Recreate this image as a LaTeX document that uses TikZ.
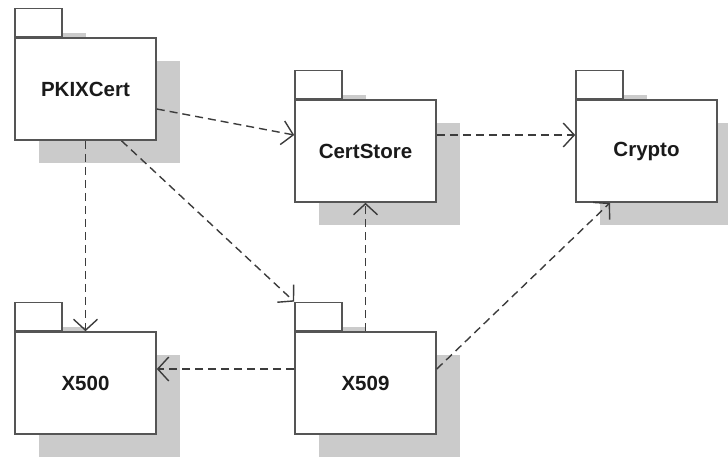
\documentclass[tikz,border=0pt]{standalone}
\usepackage{fontspec}
\setmainfont{Liberation Sans}
\usetikzlibrary{arrows.meta,calc}
\definecolor{pkgline}{HTML}{555555}
\definecolor{pkgshadow}{HTML}{CBCBCB}
\definecolor{deplinecol}{HTML}{3C3C3C}
\definecolor{pkgtext}{HTML}{1A1A1A}
\tikzset{
  pkgbody/.style={draw=pkgline, line width=1.6pt, fill=white, rectangle,
    minimum width=141pt, minimum height=102pt, inner sep=0pt,
    font=\fontsize{20.5}{24}\selectfont\bfseries, text=pkgtext},
  pkgtab/.style={draw=pkgline, line width=1.6pt, fill=white, rectangle,
    minimum width=47pt, minimum height=28pt, inner sep=0pt, anchor=south west},
  pkgshade/.style={fill=pkgshadow, draw=none},
  dep/.style={draw=deplinecol, line width=1.4pt, dash pattern=on 8pt off 5pt,
    -{Straight Barb[length=11pt, width=24pt, line width=1.4pt]}},
}
% package with folder tab and drop shadow: name, x, y (centre of body), label
\newcommand{\umlpackage}[4]{%
  \fill[pkgshade] (#2-70.5+24, #3-51-28+23) rectangle ++(47, 28);
  \fill[pkgshade] (#2-70.5+24, #3-51+23) rectangle ++(141, 102);
  \node[pkgbody] (#1) at (#2, #3) {#4};
  \node[pkgtab] (#1tab) at (#1.north west) {};
}
\begin{document}
\begin{tikzpicture}[x=1pt, y=-1pt]
  \useasboundingbox (0,0) rectangle (728,460);
  \umlpackage{pk}{85.5}{89}{PKIXCert}
  \umlpackage{cs}{365.5}{151}{CertStore}
  \umlpackage{cr}{646.5}{151}{Crypto}
  \umlpackage{xa}{85.5}{383}{X500}
  \umlpackage{xb}{365.5}{383}{X509}
  % dependencies
  \draw[dep] ($(pk.east)+(0,20)$) -- ($(cs.west)+(0,-16)$);
  \draw[dep] (pk.south) -- (xa.north);
  \draw[dep] ($(pk.south)+(36,0)$) -- (xbtab.north west);
  \draw[dep] ($(cs.east)+(0,-16)$) -- ($(cr.west)+(0,-16)$);
  \draw[dep] (xb.north) -- (cs.south);
  \draw[dep] ($(xb.west)+(0,-14)$) -- ($(xa.east)+(0,-14)$);
  \draw[dep] ($(xb.east)+(0,-14)$) -- ($(cr.south)+(-36.5,0)$);
\end{tikzpicture}
\end{document}
